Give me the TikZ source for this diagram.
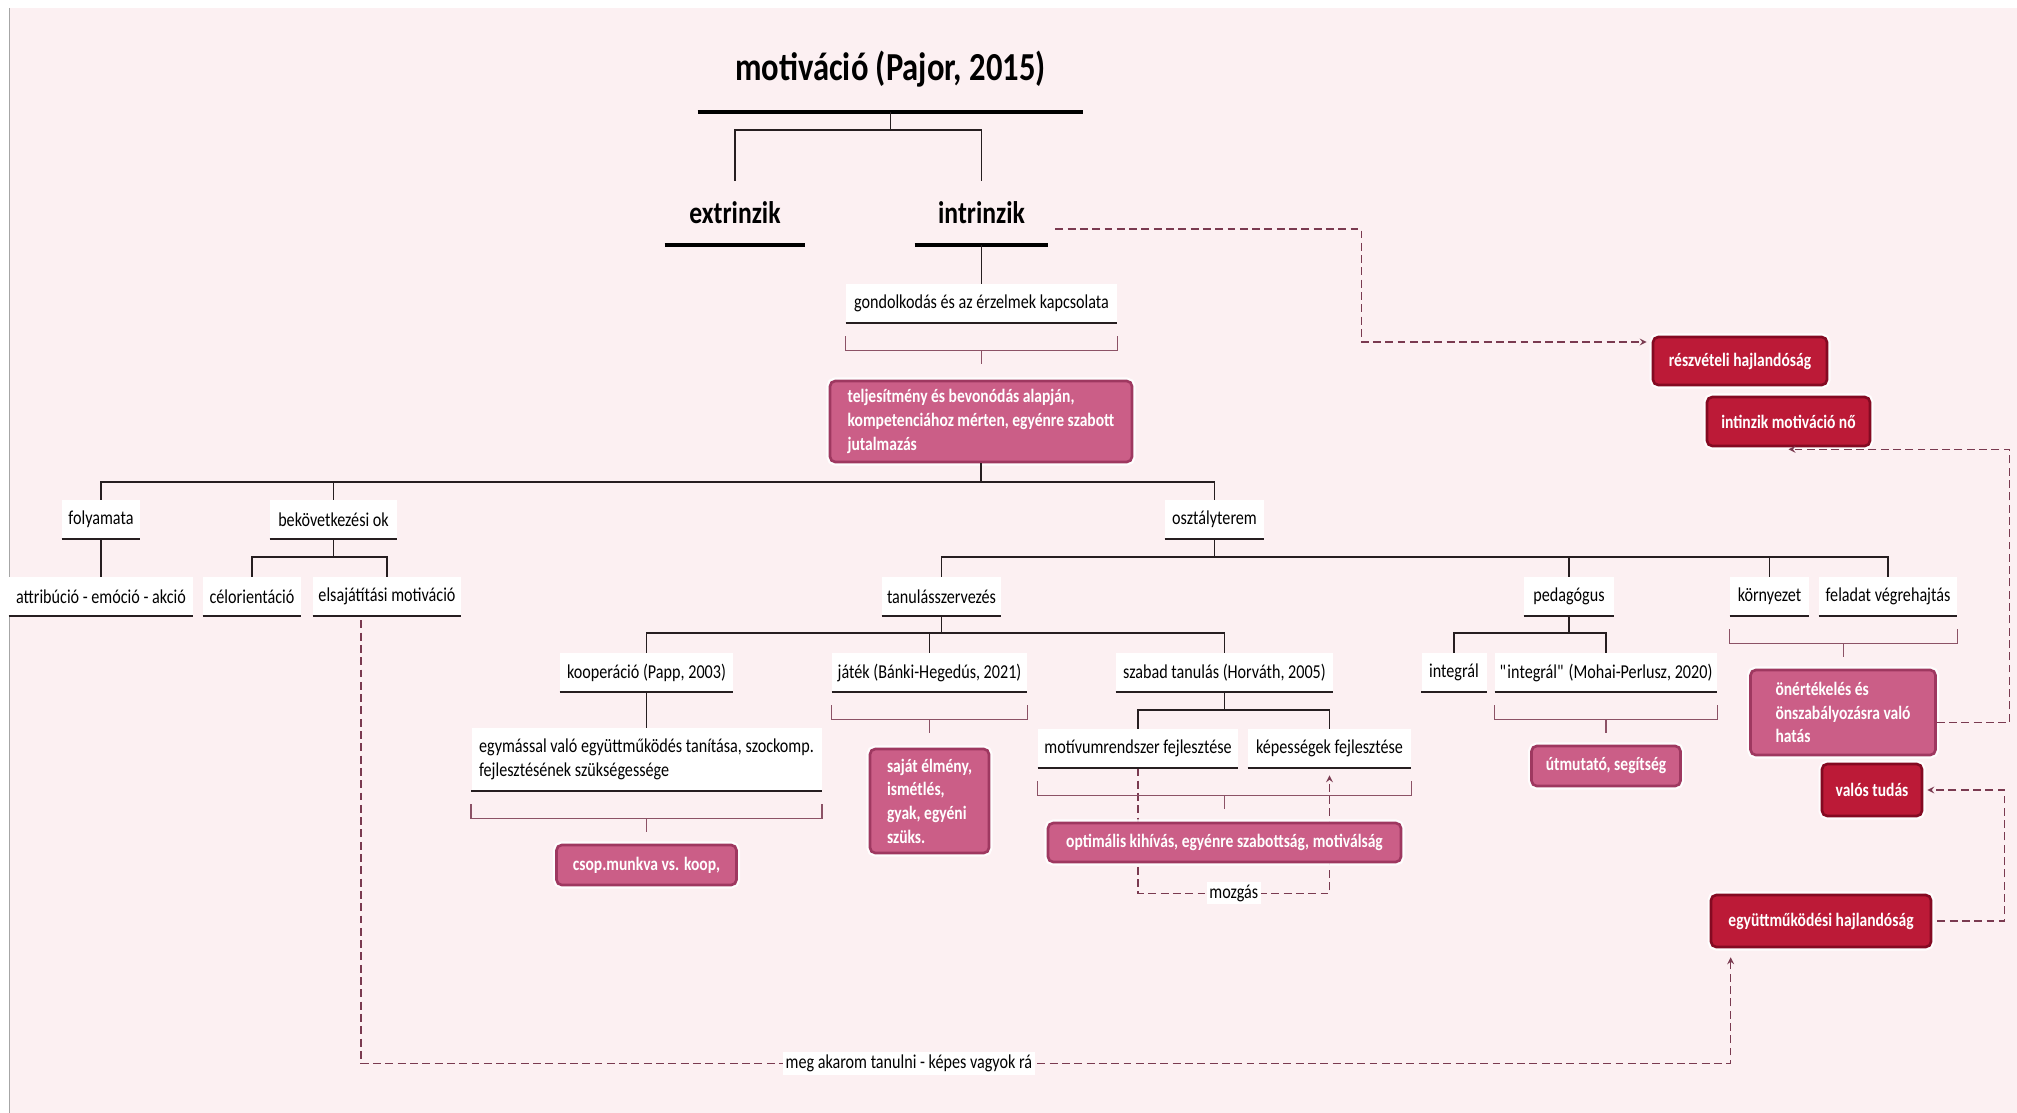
\documentclass[tikz,border=0pt]{standalone}
\usepackage{fontspec}
\setmainfont{Carlito}[FakeStretch=0.82]
\usepackage{tikz}
\usetikzlibrary{arrows,calc}
\definecolor{bgpink}{RGB}{252,240,242}
\definecolor{linegray}{RGB}{38,30,32}
\definecolor{bracketrose}{RGB}{140,82,102}
\definecolor{flowrose}{RGB}{122,58,80}
\definecolor{boxpink}{RGB}{203,94,135}
\definecolor{boxpinkdark}{RGB}{158,56,96}
\definecolor{boxred}{RGB}{188,26,55}
\definecolor{boxreddark}{RGB}{132,10,34}
\tikzstyle{uline}=[line width=1.1pt, draw=linegray]
\tikzstyle{bar}=[line width=2.3pt, draw=black]
\tikzstyle{Label}=[font=\fontsize{11.2}{13.4}\selectfont, fill=white, inner sep=0pt, minimum height=0.78cm, text=black, append after command={(\tikzlastnode.south west) edge [style=uline] (\tikzlastnode.south east)}]
\tikzstyle{Head}=[font=\bfseries\fontsize{17.8}{20}\selectfont, inner sep=0pt, minimum height=1.28cm, text=black, append after command={(\tikzlastnode.south west) edge [style=bar] (\tikzlastnode.south east)}]
\tikzstyle{Title}=[font=\bfseries\fontsize{22.6}{26}\selectfont, inner sep=0pt, minimum height=1.72cm, text=black, append after command={(\tikzlastnode.south west) edge [style=bar] (\tikzlastnode.south east)}]
\tikzstyle{PinkBox}=[rounded corners=3pt, fill=boxpink, draw=boxpinkdark, line width=1.5pt, text=white, font=\bfseries\fontsize{10.8}{13.5}\selectfont, align=left, inner sep=0pt, preaction={draw=white, line width=4pt, opacity=0.9}]
\tikzstyle{RedBox}=[style=PinkBox, fill=boxred, draw=boxreddark]
\tikzstyle{tree}=[line width=1.1pt, draw=linegray]
\tikzstyle{bracket}=[line width=0.9pt, draw=bracketrose]
\tikzstyle{flow}=[draw=flowrose, line width=0.75pt, dash pattern=on 4.5pt off 2.5pt, -stealth]
\tikzstyle{FlowLabel}=[fill=white, inner sep=1.5pt, font=\fontsize{11.2}{13.4}\selectfont, text=black]
\pgfdeclarelayer{bglayer}
\pgfdeclarelayer{nodelayer}
\pgfdeclarelayer{edgelayer}
\pgfsetlayers{bglayer, nodelayer, edgelayer, main}

\begin{document}
\begin{tikzpicture}[x=2cm, y=-2cm]
	\useasboundingbox (0, 0) rectangle (20.17, 11.13);
	\begin{pgfonlayer}{nodelayer}
		\node [style=Title, minimum width=7.7cm] (title) at (8.905, 0.69) {motiváció (Pajor, 2015)};
		\node [style=Head, minimum width=2.8cm] (extrinzik) at (7.35, 2.13) {extrinzik};
		\node [style=Head, minimum width=2.66cm] (intrinzik) at (9.815, 2.13) {intrinzik};
		\node [style=Label, minimum width=5.42cm] (gondolkodas) at (9.815, 3.035) {gondolkodás és az érzelmek kapcsolata};
		\node [style=PinkBox, minimum width=6.04cm, minimum height=1.62cm] (jutalom) at (9.81, 4.215) {teljesítmény és bevonódás alapján,\\kompetenciához mérten, egyénre szabott\\jutalmazás};
		% first level
		\node [style=Label, minimum width=1.56cm] (folyamata) at (1.01, 5.195) {folyamata};
		\node [style=Label, minimum width=2.54cm] (bekovetkezes) at (3.335, 5.195) {bekövetkezési ok};
		\node [style=Label, minimum width=1.98cm] (osztaly) at (12.145, 5.195) {osztályterem};
		% second level
		\node [style=Label, minimum width=3.68cm] (attribucio) at (1.01, 5.965) {attribúció - emóció - akció};
		\node [style=Label, minimum width=1.96cm] (celorientacio) at (2.52, 5.965) {célorientáció};
		\node [style=Label, minimum width=2.96cm] (elsajat) at (3.87, 5.965) {elsajátítási motiváció};
		\node [style=Label, minimum width=2.38cm] (tanulas) at (9.415, 5.965) {tanulásszervezés};
		\node [style=Label, minimum width=1.8cm] (pedagogus) at (15.69, 5.965) {pedagógus};
		\node [style=Label, minimum width=1.58cm] (kornyezet) at (17.695, 5.965) {környezet};
		\node [style=Label, minimum width=2.76cm] (feladat) at (18.88, 5.965) {feladat végrehajtás};
		% third level
		\node [style=Label, minimum width=3.46cm] (kooperacio) at (6.465, 6.725) {kooperáció (Papp, 2003)};
		\node [style=Label, minimum width=3.9cm] (jatek) at (9.295, 6.725) {játék (Bánki-Hegedús, 2021)};
		\node [style=Label, minimum width=4.34cm] (szabad) at (12.245, 6.725) {szabad tanulás (Horváth, 2005)};
		\node [style=Label, minimum width=1.3cm] (integral) at (14.54, 6.725) {integrál};
		\node [style=Label, minimum width=4.44cm] (integralb) at (16.06, 6.725) {\textquotedbl integrál\textquotedbl{} (Mohai-Perlusz, 2020)};
		\node [style=Label, minimum width=7cm, minimum height=1.26cm, align=left] (egymas) at (6.465, 7.595) {egymással való együttműködés tanítása, szockomp.\\fejlesztésének szükségessége};
		\node [style=Label, minimum width=4cm] (motiv) at (11.38, 7.485) {motívumrendszer fejlesztése};
		\node [style=Label, minimum width=3.26cm] (kepes) at (13.295, 7.485) {képességek fejlesztése};
		% boxes
		\node [style=PinkBox, minimum width=3.6cm, minimum height=0.8cm] (csop) at (6.465, 8.65) {csop.munkva vs. koop,};
		\node [style=PinkBox, minimum width=2.38cm, minimum height=2.08cm] (sajat) at (9.295, 8.01) {saját élmény,\\ismétlés,\\gyak, egyéni\\szüks.};
		\node [style=PinkBox, minimum width=7.06cm, minimum height=0.78cm] (optimalis) at (12.245, 8.425) {optimális kihívás, egyénre szabottság, motiválság};
		\node [style=PinkBox, minimum width=2.98cm, minimum height=0.8cm] (utmutato) at (16.06, 7.66) {útmutató, segítség};
		\node [style=PinkBox, minimum width=3.7cm, minimum height=1.7cm] (onertekeles) at (18.43, 7.125) {önértékelés és\\önszabályozásra való\\hatás};
		\node [style=RedBox, minimum width=3.48cm, minimum height=0.96cm] (reszveteli) at (17.4, 3.61) {részvételi hajlandóság};
		\node [style=RedBox, minimum width=3.26cm, minimum height=0.98cm] (intinzik) at (17.885, 4.215) {intinzik motiváció nő};
		\node [style=RedBox, minimum width=2cm, minimum height=1.04cm] (valos) at (18.72, 7.9) {valós tudás};
		\node [style=RedBox, minimum width=4.4cm, minimum height=1.04cm] (egyutt) at (18.21, 9.21) {együttműködési hajlandóság};
	\end{pgfonlayer}
	\begin{pgfonlayer}{edgelayer}
		% tree
		\draw [style=tree] (title.south) -- ++(0, 0.18) -| (extrinzik.north);
		\draw [style=tree] (title.south) -- ++(0, 0.18) -| (intrinzik.north);
		\draw [style=tree] (intrinzik.south) to (gondolkodas.north);
		\draw [style=tree] (jutalom.south) -- ++(0, 0.19) -| (folyamata.north);
		\draw [style=tree] (jutalom.south) -- ++(0, 0.19) -| (bekovetkezes.north);
		\draw [style=tree] (jutalom.south) -- ++(0, 0.19) -| (osztaly.north);
		\draw [style=tree] (folyamata.south) to (attribucio.north);
		\draw [style=tree] (bekovetkezes.south) -- ++(0, 0.18) -| (celorientacio.north);
		\draw [style=tree] (bekovetkezes.south) -- ++(0, 0.18) -| (elsajat.north);
		\draw [style=tree] (osztaly.south) -- ++(0, 0.18) -| (tanulas.north);
		\draw [style=tree] (osztaly.south) -- ++(0, 0.18) -| (pedagogus.north);
		\draw [style=tree] (osztaly.south) -- ++(0, 0.18) -| (kornyezet.north);
		\draw [style=tree] (osztaly.south) -- ++(0, 0.18) -| (feladat.north);
		\draw [style=tree] (tanulas.south) -- ++(0, 0.17) -| (kooperacio.north);
		\draw [style=tree] (tanulas.south) -- ++(0, 0.17) -| (jatek.north);
		\draw [style=tree] (tanulas.south) -- ++(0, 0.17) -| (szabad.north);
		\draw [style=tree] (kooperacio.south) to (egymas.north);
		\draw [style=tree] (szabad.south) -- ++(0, 0.18) -| (motiv.north);
		\draw [style=tree] (szabad.south) -- ++(0, 0.18) -| (kepes.north);
		\draw [style=tree] (pedagogus.south) -- ++(0, 0.17) -| (integral.north);
		\draw [style=tree] (pedagogus.south) -- ++(0, 0.17) -| (integralb.north);
		% brackets
		\draw [style=bracket] ([yshift=-0.26cm]gondolkodas.south west) -- ([yshift=-0.54cm]gondolkodas.south west) -- ([yshift=-0.54cm]gondolkodas.south east) -- ([yshift=-0.26cm]gondolkodas.south east);
		\draw [style=bracket] ([yshift=-0.54cm]gondolkodas.south) -- ([yshift=-0.82cm]gondolkodas.south);
		\draw [style=bracket] ([yshift=-0.26cm]egymas.south west) -- ([yshift=-0.54cm]egymas.south west) -- ([yshift=-0.54cm]egymas.south east) -- ([yshift=-0.26cm]egymas.south east);
		\draw [style=bracket] ([yshift=-0.54cm]egymas.south) -- ([yshift=-0.82cm]egymas.south);
		\draw [style=bracket] ([yshift=-0.26cm]jatek.south west) -- ([yshift=-0.54cm]jatek.south west) -- ([yshift=-0.54cm]jatek.south east) -- ([yshift=-0.26cm]jatek.south east);
		\draw [style=bracket] ([yshift=-0.54cm]jatek.south) -- ([yshift=-0.82cm]jatek.south);
		\draw [style=bracket] ([yshift=-0.26cm]motiv.south west) -- ([yshift=-0.54cm]motiv.south west) -- ([yshift=-0.54cm]kepes.south east) -- ([yshift=-0.26cm]kepes.south east);
		\draw [style=bracket] ([yshift=-0.54cm]$(motiv.south west)!0.5!(kepes.south east)$) -- ([yshift=-0.82cm]$(motiv.south west)!0.5!(kepes.south east)$);
		\draw [style=bracket] ([yshift=-0.26cm]integralb.south west) -- ([yshift=-0.54cm]integralb.south west) -- ([yshift=-0.54cm]integralb.south east) -- ([yshift=-0.26cm]integralb.south east);
		\draw [style=bracket] ([yshift=-0.54cm]integralb.south) -- ([yshift=-0.82cm]integralb.south);
		\draw [style=bracket] ([yshift=-0.26cm]kornyezet.south west) -- ([yshift=-0.54cm]kornyezet.south west) -- ([yshift=-0.54cm]feladat.south east) -- ([yshift=-0.26cm]feladat.south east);
		\draw [style=bracket] ([yshift=-0.54cm]$(kornyezet.south west)!0.5!(feladat.south east)$) -- ([yshift=-0.82cm]$(kornyezet.south west)!0.5!(feladat.south east)$);
		% dashed links
		\draw [style=flow] ([xshift=0.14cm, yshift=-0.32cm]intrinzik.east) -- ++(3.06, 0) |- ([xshift=-0.1cm, yshift=0.38cm]reszveteli.west);
		\draw [style=flow] ([yshift=-0.2cm]onertekeles.east) -- ++(0.73, 0) |- ([yshift=-0.04cm]intinzik.south);
		\draw [style=flow, shorten <=0.1cm, shorten >=0.08cm] (egyutt.east) -- ++(0.72, 0) |- (valos.east);
		\draw [style=flow, shorten <=0.08cm, shorten >=0.18cm] ([xshift=-0.52cm]elsajat.south) -- ++(0, 4.47) -| node [pos=0.2, style=FlowLabel] {meg akarom tanulni - képes vagyok rá} ([xshift=0.42cm]egyutt.south west);
	\end{pgfonlayer}
	\begin{pgfonlayer}{bglayer}
		\fill [bgpink] (0.1, 0.08) rectangle (20.17, 11.13);
		\draw [gray!70, line width=0.8pt] (0.095, 0.08) -- (0.095, 11.13);
		% behind the box
		\draw [style=flow, shorten >=0.14cm] (motiv.south) -- ++(0, 1.25) -| node [pos=0.25, style=FlowLabel] {mozgás} (kepes.south);
	\end{pgfonlayer}
\end{tikzpicture}
\end{document}
